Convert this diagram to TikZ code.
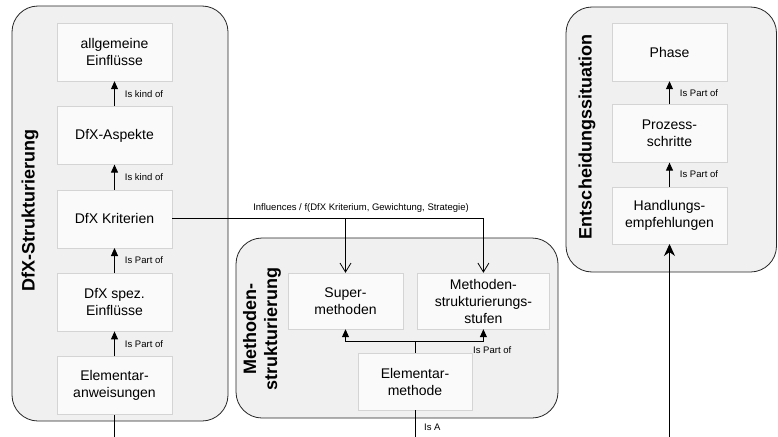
\documentclass[tikz,border=0pt]{standalone}
\usepackage{fontspec}
\setmainfont{Liberation Sans}
\usepackage{xcolor}
\usepackage{tikz}
\usetikzlibrary{arrows.meta,positioning}

\begin{document}
\begin{tikzpicture}[x=1pt,y=-1pt,kasten/.style={draw=black!17, fill=black!2, minimum width=115pt, minimum height=58pt, align=center, font=\fontsize{14}{17}\selectfont}]
        \tikzstyle{bereich} = [draw=black!85, fill=black!6, line width=0.8pt, rounded corners=26pt]
        \tikzstyle{titel} = [rotate=90, align=center, font=\fontsize{18}{21}\selectfont\bfseries]
        \tikzstyle{lbl} = [inner sep=1pt, font=\fontsize{9.5}{11}\selectfont]
        \tikzstyle{teil} = [-{Triangle[length=8pt,width=7pt]}, line width=0.9pt]
        \tikzstyle{einfluss} = [-{Straight Barb[length=9pt,width=11pt]}, line width=0.8pt]
        \useasboundingbox (0,0) rectangle (778,436);

        % Bereiche
        \draw[bereich] (12,6) rectangle (228,421);
        \draw[bereich] (236,238) rectangle (558,418);
        \draw[bereich] (566,7) rectangle (776.5,272);

        % DfX-Strukturierung
        \node[titel] (tdfx) at (30,210.5) {DfX-Strukturierung};
        \node[kasten] (allg) at (114.5,52) {allgemeine\\Einflüsse};
        \node[kasten, below = 25pt of allg] (asp) {DfX-Aspekte};
        \node[kasten, below = 25pt of asp] (krit) {DfX Kriterien};
        \node[kasten, below = 25pt of krit] (spez) {DfX spez.\\Einflüsse};
        \node[kasten, below = 25pt of spez] (anw) {Elementar-\\anweisungen};

        \draw [teil] (asp) -- (allg) node[lbl, midway, right = 9pt] (l1) {Is kind of};
        \draw [teil] (krit) -- (asp) node[lbl, midway, right = 9pt] (l2) {Is kind of};
        \draw [teil] (spez) -- (krit) node[lbl, midway, right = 9pt] (l3) {Is Part of};
        \draw [teil] (anw) -- (spez) node[lbl, midway, right = 9pt] (l4) {Is Part of};

        % Methodenstrukturierung
        \node[titel] (tmeth) at (262,329) {Methoden-\\strukturierung};
        \node[kasten, minimum height=56pt] (sup) at (345.5,301) {Super-\\methoden};
        \node[kasten, minimum height=56pt, minimum width=132pt, right = 14pt of sup] (stufen) {Methoden-\\strukturierungs-\\stufen};
        \node[kasten, minimum width=114pt, minimum height=57pt] (elm) at (415,381.5) {Elementar-\\methode};

        \coordinate (knick) at (415,341);
        \draw [line width=0.9pt] (elm.north) -- (knick);
        \draw [teil] (knick) -| (sup.south);
        \draw [teil] (knick) -| (stufen.south);
        \node[lbl, anchor=west] (l5) at (472,350) {Is Part of};

        \draw [einfluss] (krit.east) -| (stufen.north);
        \draw [einfluss] (sup.north |- krit.east) -- (sup.north);
        \node[lbl] (l6) at (361,208.5) {Influences / f(DfX Kriterium, Gewichtung, Strategie)};

        % Entscheidungssituation
        \node[titel] (tent) at (587,137) {Entscheidungssituation};
        \node[kasten] (phase) at (669.5,52) {Phase};
        \node[kasten, below = 23pt of phase] (proz) {Prozess-\\schritte};
        \node[kasten, minimum height=57pt, below = 24pt of proz] (hand) {Handlungs-\\empfehlungen};

        \draw [teil] (proz) -- (phase) node[lbl, midway, right = 9pt] (l7) {Is Part of};
        \draw [teil] (hand) -- (proz) node[lbl, midway, right = 9pt] (l8) {Is Part of};

        % Verbindung unten
        \draw [-{Stealth[length=12pt,width=11pt]}, line width=0.9pt] (anw.south) |- (hand.south |- 0,442) -- (hand.south);
        \draw [line width=0.9pt] (elm.south) -- (elm.south |- 0,442);
        \node[lbl, anchor=west] (l9) at (423,427) {Is A};
\end{tikzpicture}
\end{document}
